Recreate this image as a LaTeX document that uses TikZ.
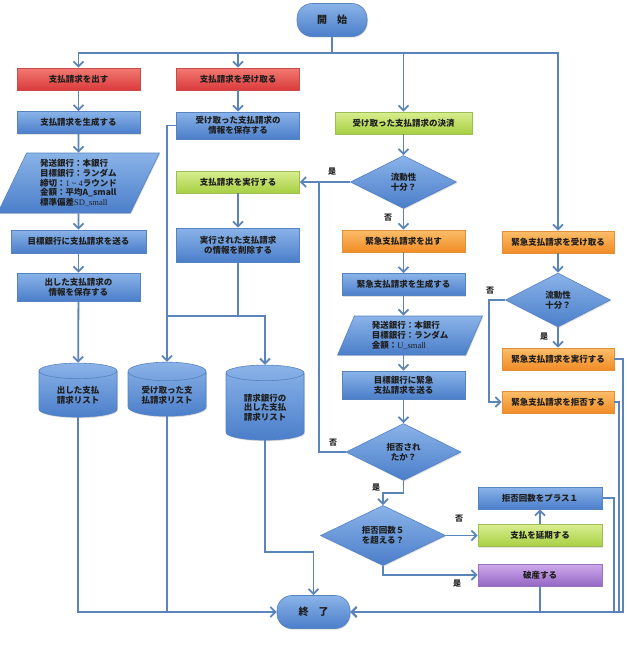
\documentclass[tikz,border=0pt]{standalone}
\usepackage{fontspec}
\setmainfont{Noto Sans CJK JP}
\newfontfamily\romanpart{Liberation Serif}
\usetikzlibrary{shapes.geometric,shadows,arrows.meta}

\definecolor{linec}{HTML}{5B84BA}
\definecolor{bluetop}{HTML}{8AB3E8}
\definecolor{bluebot}{HTML}{4B7ECA}
\definecolor{blueedge}{HTML}{5583C0}
\definecolor{redtop}{HTML}{F27A72}
\definecolor{redbot}{HTML}{DA3B3B}
\definecolor{rededge}{HTML}{C84A4A}
\definecolor{greentop}{HTML}{D8EE90}
\definecolor{greenbot}{HTML}{A8CF42}
\definecolor{greenedge}{HTML}{9DBE55}
\definecolor{orangetop}{HTML}{FBBE6A}
\definecolor{orangebot}{HTML}{F18C26}
\definecolor{orangeedge}{HTML}{E0903A}
\definecolor{purpletop}{HTML}{CFAAEC}
\definecolor{purplebot}{HTML}{9467C4}
\definecolor{purpleedge}{HTML}{9574BE}
\definecolor{txt}{HTML}{1E1E1E}

\begin{document}
\begin{tikzpicture}[x=1pt,y=-1pt,
  font=\fontsize{8.5}{9.6}\selectfont\bfseries,
  shade/.style={draw=blueedge, line width=0.6pt, top color=bluetop, bottom color=bluebot,
    text=txt, align=center,
    drop shadow={opacity=0.25,shadow xshift=0.8pt,shadow yshift=-1.2pt}},
  box/.style={shade, rectangle, minimum width=123, minimum height=22, inner sep=1pt},
  redbox/.style={box, draw=rededge, top color=redtop, bottom color=redbot},
  greenbox/.style={box, draw=greenedge, top color=greentop, bottom color=greenbot},
  orangebox/.style={box, draw=orangeedge, top color=orangetop, bottom color=orangebot},
  purplebox/.style={box, draw=purpleedge, top color=purpletop, bottom color=purplebot},
  term/.style={box, rounded corners=15, font=\fontsize{10}{12}\selectfont\bfseries},
  decide/.style={shade, diamond, inner sep=0pt},
  data/.style={shade, trapezium, trapezium stretches=true, align=left, inner sep=2pt},
  store/.style={shade, cylinder, shape border rotate=90, aspect=0.35, minimum width=78, inner sep=1pt},
  lbl/.style={font=\fontsize{8}{9}\selectfont\bfseries, text=txt, inner sep=0pt},
  flow/.style={draw=linec, line width=1.8pt},
  arr/.style={flow, -{Straight Barb[length=5pt,width=10pt]}}]

  \useasboundingbox (0,0) rectangle (627,646);

  \node[term, minimum width=70, minimum height=33] (start) at (332,20) {開　始};
  \node[term, minimum width=73, minimum height=33] (stop) at (313.5,612) {終　了};

  \node[redbox] (issue) at (78.5,79) {支払請求を出す};
  \node[box] (gen) at (78.5,122.5) {支払請求を生成する};
  \node[data, minimum width=162, minimum height=60, trapezium left angle=66, trapezium right angle=114] (param) at (78.5,183)
    {発送銀行：本銀行\\目標銀行：ランダム\\締切：{\romanpart\mdseries 1 \textasciitilde{} 4}ラウンド\\金額：平均A\_small\\標準偏差{\romanpart\mdseries SD\_small}};
  \node[box, minimum width=135, minimum height=23] (send) at (78.5,241.5) {目標銀行に支払請求を送る};
  \node[box, minimum height=28] (savesent) at (78.5,287) {出した支払請求の\\情報を保存する};

  \node[redbox] (recv) at (238,79) {支払請求を受け取る};
  \node[box, minimum height=27] (saverecv) at (238,125.5) {受け取った支払請求の\\情報を保存する};
  \node[greenbox] (exec) at (238,182) {支払請求を実行する};
  \node[box, minimum height=34] (del) at (238,245) {実行された支払請求\\の情報を削除する};

  \node[store, minimum height=54] (db1) at (78,395) {出した支払\\請求リスト};
  \node[store, minimum height=54] (db2) at (167,395) {受け取った支\\払請求リスト};
  \node[store, minimum height=75] (db3) at (265,407.5) {請求銀行の\\出した支払\\請求リスト};

  \node[greenbox, minimum width=137] (settle) at (403.5,123) {受け取った支払請求の決済};
  \node[decide, minimum width=106, minimum height=53] (liq) at (403.5,182) {流動性\\十分？};
  \node[orangebox] (emiss) at (403.5,241) {緊急支払請求を出す};
  \node[box] (egen) at (403.5,284.5) {緊急支払請求を生成する};
  \node[data, minimum width=145, minimum height=39, trapezium left angle=69, trapezium right angle=111] (eparam) at (410,335.5)
    {発送銀行：本銀行\\目標銀行：ランダム\\金額：{\romanpart\mdseries U\_small}};
  \node[box, minimum height=28] (esend) at (403.5,385) {目標銀行に緊急\\支払請求を送る};
  \node[decide, minimum width=115, minimum height=57] (rejq) at (403.5,452) {拒否され\\たか？};
  \node[decide, minimum width=125, minimum height=53] (over5) at (383,535.5) {拒否回数５\\を超える？};

  \node[box, minimum width=124] (plusone) at (540,498) {拒否回数をプラス１};
  \node[greenbox, minimum width=124] (postpone) at (540,535.5) {支払を延期する};
  \node[purplebox, minimum width=124] (bankrupt) at (540,575) {破産する};

  \node[orangebox, minimum width=112] (erecv) at (558,242) {緊急支払請求を受け取る};
  \node[decide, minimum width=105, minimum height=54] (eliq) at (558,300) {流動性\\十分？};
  \node[orangebox, minimum width=112] (eexec) at (558,359) {緊急支払請求を実行する};
  \node[orangebox, minimum width=112] (ereject) at (558,402) {緊急支払請求を拒否する};

  \node[lbl] (y1) at (332,172) {是};
  \node[lbl] (n1) at (388,218) {否};
  \node[lbl] (n2) at (333,443) {否};
  \node[lbl] (y2) at (376,488) {是};
  \node[lbl] (n3) at (459,519) {否};
  \node[lbl] (y3) at (457,584) {是};
  \node[lbl] (n4) at (490,291) {否};
  \node[lbl] (y4) at (544,337) {是};

  \coordinate (bar) at (332,53);
  \draw[flow] (start) -- (bar);
  \draw[arr] (bar) -| (issue);
  \draw[arr] (bar) -| (recv);
  \draw[arr] (bar) -| (settle);
  \draw[arr] (bar) -| (erecv);

  \draw[arr] (issue) -- (gen);
  \draw[arr] (gen) -- (param);
  \draw[arr] (param) -- (send);
  \draw[arr] (send) -- (savesent);
  \draw[arr] (savesent) -- (db1);

  \draw[arr] (recv) -- (saverecv);
  \draw[arr] (saverecv.west) -| (db2);
  \draw[arr] (exec) -- (del);
  \coordinate (split) at (238,316);
  \draw[flow] (del) -- (split);
  \draw[flow] (split) -- (split -| db2);
  \draw[arr] (split) -| (db3);

  \draw[arr] (db1.south) |- (stop.west);
  \draw[flow] (db2.south) -- (db2 |- stop);
  \draw[arr] (db3.south) -- ++(0,112) -| (stop.north);

  \draw[arr] (settle) -- (liq);
  \draw[arr] (liq.west) -- (exec.east);
  \draw[arr] (liq) -- (emiss);
  \draw[arr] (emiss) -- (egen);
  \draw[arr] (egen) -- (egen |- eparam.north);
  \draw[arr] (eparam.south -| esend) -- (esend);
  \draw[arr] (esend) -- (rejq);
  \coordinate (back) at (319,182);
  \draw[flow] (rejq.west) -| (back);
  \draw[arr] (rejq.south) -- ++(0,12) -| (over5.north);
  \draw[arr] (over5.east) -- (postpone.west);
  \draw[arr] (over5.south) |- (bankrupt.west);
  \draw[arr] (postpone) -- (plusone);

  \draw[arr] (erecv) -- (eliq);
  \draw[arr] (eliq) -- (eexec);
  \draw[arr] (eliq.west) -- ++(-16,0) |- (ereject.west);

  \draw[flow] (bankrupt) -- (bankrupt |- stop);
  \draw[arr] (plusone.east) -- ++(12,0) |- (stop.east);
  \draw[arr] (ereject.east) -- ++(5,0) |- (stop.east);
  \draw[arr] (eexec.east) -- ++(9,0) |- (stop.east);

\end{tikzpicture}
\end{document}
